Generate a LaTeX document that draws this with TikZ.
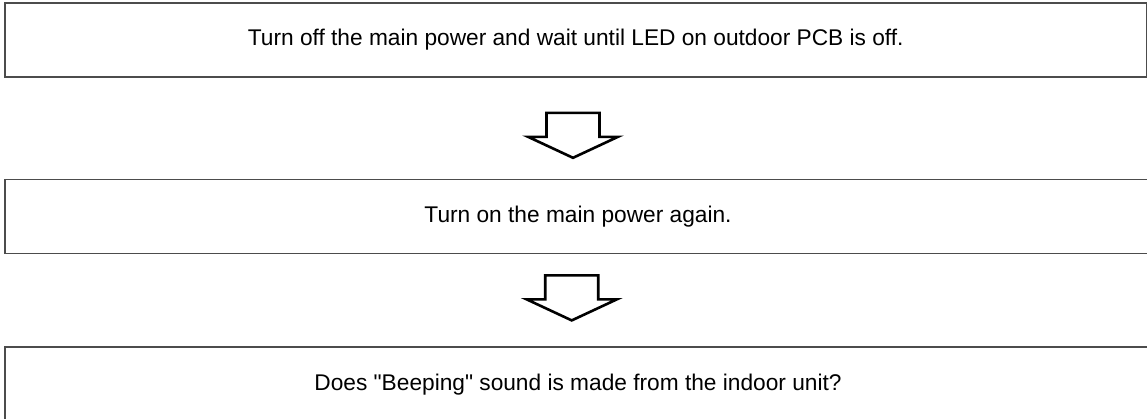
\documentclass[tikz,border=0pt]{standalone}
\usepackage{fontspec}
\setmainfont{Liberation Sans}
\usepackage{tikz}
\usetikzlibrary{calc, positioning}

\begin{document}
\begin{tikzpicture}[x=1pt, y=-1pt,
    box/.style={draw=black!70, line width=1.6pt, minimum width=1141.5pt,
                minimum height=74pt, inner sep=0pt,
                font=\fontsize{22.7}{27}\selectfont},
    openbox/.style={box, minimum width=1146pt},
    downarr/.pic={
      \draw[line width=2.6pt, line join=miter]
        (-26.5,0) -- (-26.5,24) -- (-45,24) -- (0,45) -- (45,24)
        -- (26.5,24) -- (26.5,0) -- cycle;
    }
  ]
  \useasboundingbox (0,0) rectangle (1147,418);

  \node[box] (off) at (575.75,40) {Turn off the main power and wait until LED on outdoor PCB is off.};
  \node[openbox, below=101pt of off, xshift=2.25pt] (on) {Turn on the main power again.};
  \node[openbox, below=92pt of on] (beep) {Does \textquotedbl Beeping\textquotedbl{} sound is made from the indoor unit?};

  % hollow arrows between the steps
  \coordinate (a1) at ($(off.south)+(-2.75,35)$);
  \coordinate (a2) at ($(on.south)+(-6.25,21)$);
  \pic at (a1) {downarr};
  \pic at (a2) {downarr};

\end{tikzpicture}
\end{document}
